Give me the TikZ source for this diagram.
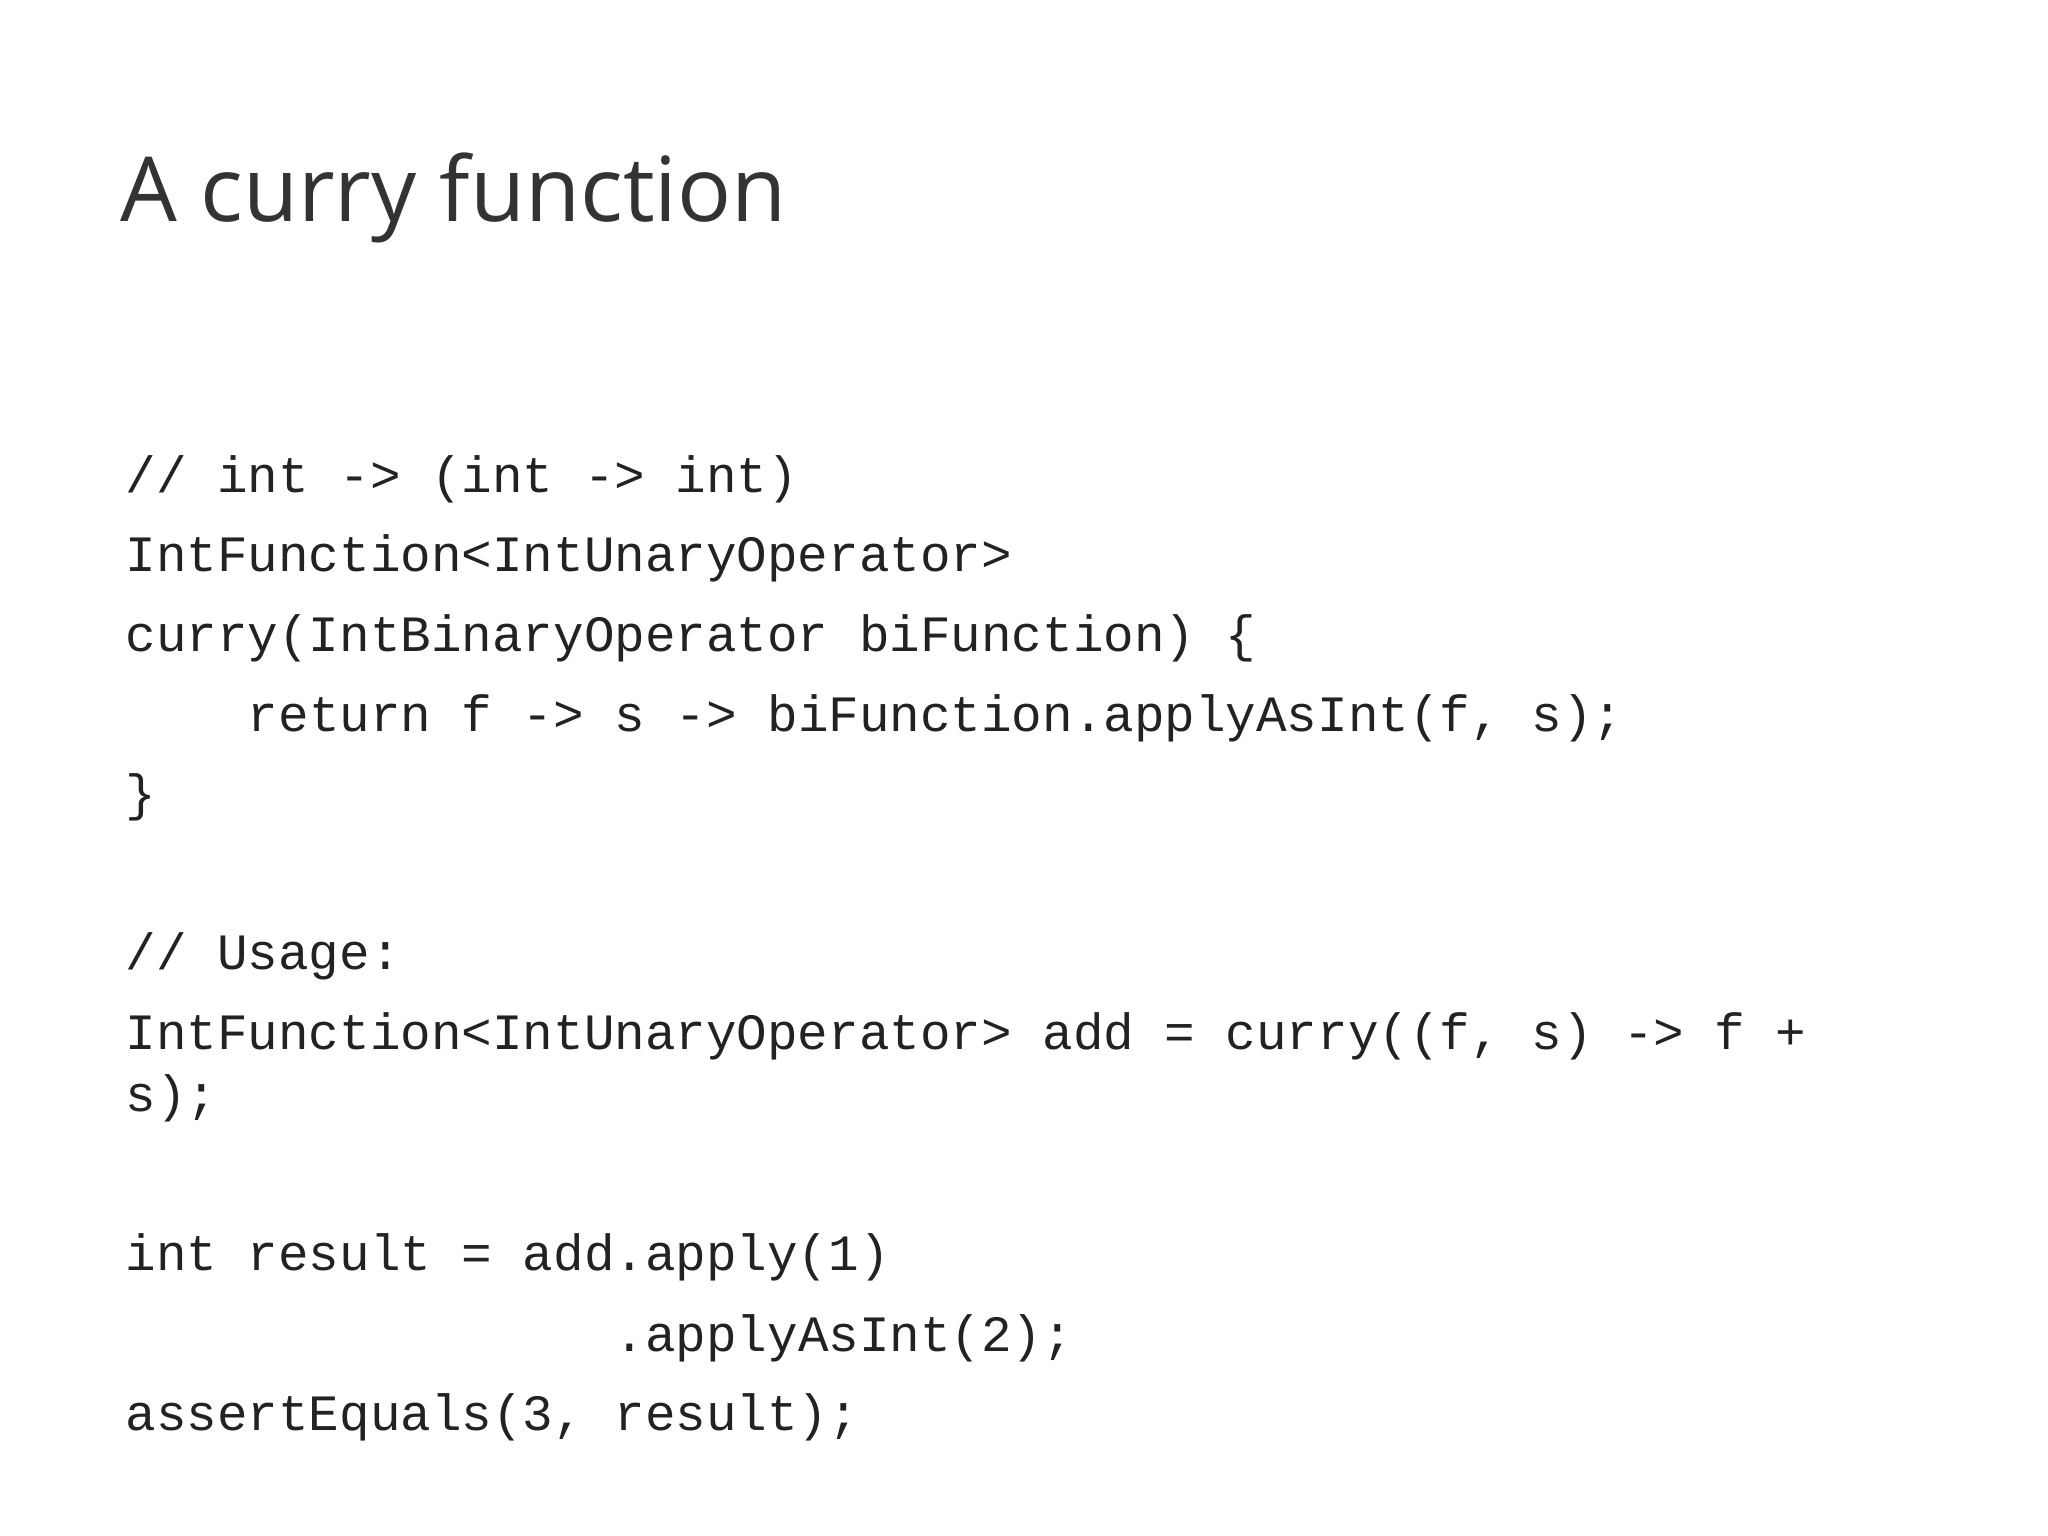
\documentclass[tikz,border=0pt]{standalone}
\usepackage{fontspec}
\setmainfont{Open Sans}
\newfontfamily\codefont{Liberation Mono}
\definecolor{titlec}{HTML}{333333}
\definecolor{codec}{HTML}{222222}
\begin{document}
\begin{tikzpicture}[x=1pt,y=-1pt,
  code/.style={anchor=base west,inner sep=0pt,text=codec,font=\codefont\fontsize{38.6}{40}\selectfont}]
\useasboundingbox (0,0) rectangle (1552,1164);
\node[anchor=base west,inner sep=0pt,text=titlec,font=\fontsize{68}{70}\selectfont] (title) at (91,168) {A curry function};
\node[code] (l1) at (95,373) {//~int~->~(int~->~int)};
\node[code] (l2) at (95,433) {IntFunction<IntUnaryOperator>};
\node[code] (l3) at (95,494) {curry(IntBinaryOperator~biFunction)~\{};
\node[code] (l4) at (95,554) {~~~~return~f~->~s~->~biFunction.applyAsInt(f,~s);};
\node[code] (l5) at (95,614) {\}};
\node[code] (l6) at (95,735) {//~Usage:};
\node[code] (l7) at (95,795) {IntFunction<IntUnaryOperator>~add~=~curry((f,~s)~->~f~+};
\node[code] (l8) at (95,842) {s);};
\node[code] (l9) at (95,963) {int~result~=~add.apply(1)};
\node[code] (l10) at (95,1024) {~~~~~~~~~~~~~~~~.applyAsInt(2);};
\node[code] (l11) at (95,1084) {assertEquals(3,~result);};
\end{tikzpicture}
\end{document}
